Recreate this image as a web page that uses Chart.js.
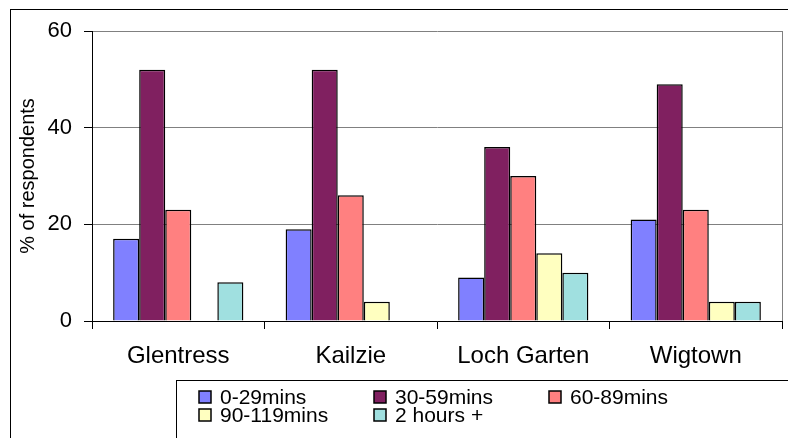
<!DOCTYPE html>
<html>
<head>
<meta charset="utf-8">
<script src="https://cdn.jsdelivr.net/npm/chart.js@4"></script>
<style>
  html, body { margin: 0; padding: 0; background: #fff; }
  #wrap { width: 788px; height: 438px; position: relative; }
</style>
</head>
<body>
<div id="wrap"><canvas id="chart" width="788" height="438"></canvas></div>
<script>
// Datos
const sites = ['Glentress', 'Kailzie', 'Loch Garten', 'Wigtown'];
const mins0to29 = [17, 19, 9, 21];
const mins30to59 = [52, 52, 36, 49];
const mins60to89 = [23, 26, 30, 23];
const mins90to119 = [0, 4, 14, 4];
const hours2plus = [8, 0, 10, 4];
const yTicks = [0, 20, 40, 60];

const fontFamily = '"Liberation Sans", Arial, sans-serif';

function makeSet(label, data, color) {
    return {
        label: label,
        data: data,
        backgroundColor: color,
        borderColor: '#000',
        borderWidth: 1.5,
        barPercentage: 1,
        categoryPercentage: 0.755
    };
}

// Marco exterior, borde derecho del área y leyenda
const framePlugin = {
    id: 'frame',
    afterDraw(chart) {
        const ctx = chart.ctx;
        const area = chart.chartArea;
        ctx.save();
        ctx.strokeStyle = '#000';
        ctx.lineWidth = 1;
        ctx.strokeRect(10.5, 9.5, 900, 600);
        ctx.strokeStyle = '#808080';
        ctx.beginPath();
        ctx.moveTo(Math.round(area.right) + 0.5, area.top);
        ctx.lineTo(Math.round(area.right) + 0.5, area.bottom);
        ctx.stroke();

        // leyenda
        const lx = 176, ly = 380;
        ctx.fillStyle = '#fff';
        ctx.fillRect(lx, ly, 800, 100);
        ctx.strokeStyle = '#000';
        ctx.strokeRect(lx + 0.5, ly + 0.5, 800, 100);
        const cols = [199, 374, 549];
        const rows = [397, 415];
        ctx.font = '21px ' + fontFamily;
        ctx.textBaseline = 'middle';
        chart.data.datasets.forEach((ds, i) => {
            const x = cols[i % 3];
            const y = rows[Math.floor(i / 3)];
            ctx.fillStyle = ds.backgroundColor;
            ctx.fillRect(x, y - 6, 12, 12);
            ctx.strokeStyle = '#000';
            ctx.lineWidth = 1.5;
            ctx.strokeRect(x, y - 6, 12, 12);
            ctx.fillStyle = '#000';
            ctx.fillText(ds.label, x + 21, y + 1);
        });
        ctx.restore();
    }
};

new Chart(document.getElementById('chart'), {
    type: 'bar',
    data: {
        labels: sites,
        datasets: [
            makeSet('0-29mins', mins0to29, '#8080FF'),
            makeSet('30-59mins', mins30to59, '#802060'),
            makeSet('60-89mins', mins60to89, '#FF8080'),
            makeSet('90-119mins', mins90to119, '#FFFFC0'),
            makeSet('2 hours +', hours2plus, '#A0E0E0')
        ]
    },
    options: {
        responsive: false,
        animation: false,
        layout: { padding: { top: 31, right: 6, left: 0, bottom: 0 } },
        plugins: {
            legend: { display: false },
            tooltip: { enabled: false }
        },
        scales: {
            x: {
                afterFit(scale) { scale.height = 117; },
                grid: {
                    offset: true,
                    drawOnChartArea: false,
                    drawTicks: true,
                    tickLength: 8,
                    color: '#000'
                },
                border: { color: '#000', width: 1 },
                ticks: {
                    color: '#000',
                    padding: 13,
                    font: { family: fontFamily, size: 24 }
                }
            },
            y: {
                min: 0,
                max: 60,
                afterFit(scale) { scale.width = 92; },
                afterBuildTicks(scale) { scale.ticks = yTicks.map(v => ({ value: v })); },
                grid: {
                    color: '#808080',
                    tickColor: '#000',
                    tickLength: 8,
                    lineWidth: 1
                },
                border: { color: '#000', width: 1 },
                ticks: {
                    color: '#000',
                    padding: 12,
                    font: { family: fontFamily, size: 22 }
                },
                title: {
                    display: true,
                    text: '% of respondents',
                    color: '#000',
                    padding: { top: 16, bottom: 0 },
                    font: { family: fontFamily, size: 20 }
                }
            }
        }
    },
    plugins: [framePlugin]
});
</script>
</body>
</html>
